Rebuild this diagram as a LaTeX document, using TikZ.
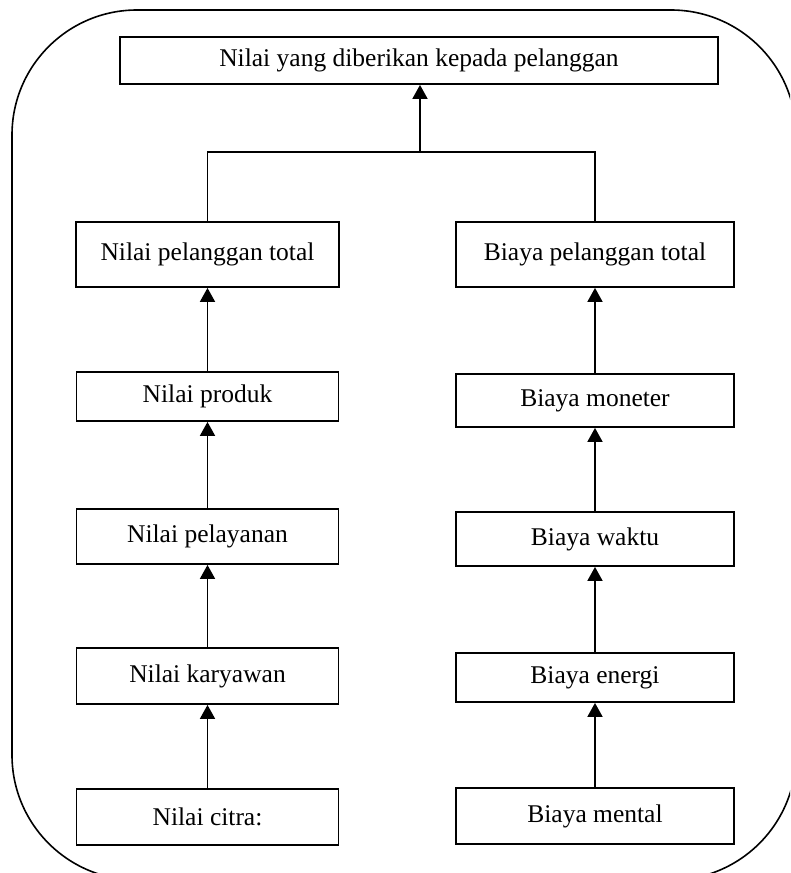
\documentclass[tikz,border=0pt]{standalone}
\usepackage{fontspec}
\setmainfont{Liberation Serif}
\usetikzlibrary{arrows.meta}
\begin{document}
\begin{tikzpicture}[x=1pt,y=-1pt,
  box/.style={draw, line width=1.8pt, inner sep=0pt, font=\fontsize{25.5}{30}\selectfont},
  arr/.style={line width=1.8pt, -{Triangle[length=14pt,width=15pt]}},
  conn/.style={line width=1.8pt}]
\useasboundingbox (0,0) rectangle (790,873);
\begin{scope}
\clip (0,0) rectangle (790,873);
\draw[line width=1.6pt, rounded corners=125pt] (12,10) rectangle (796,880);
\end{scope}
% top
\node[box, minimum width=598pt, minimum height=47pt] (top) at (419,60.5) {Nilai yang diberikan kepada pelanggan};
% left column
\node[box, minimum width=263pt, minimum height=65pt] (npt) at (207.5,254.5) {Nilai pelanggan total};
\node[box, minimum width=262pt, minimum height=49pt] (np) at (207.5,396.5) {Nilai produk};
\node[box, minimum width=262pt, minimum height=55pt] (npl) at (207.5,536.5) {Nilai pelayanan};
\node[box, minimum width=262pt, minimum height=56pt] (nk) at (207.5,676) {Nilai karyawan};
\node[box, minimum width=262pt, minimum height=56pt] (nc) at (207.5,817) {Nilai citra:};
% right column
\node[box, minimum width=278pt, minimum height=65pt] (bpt) at (595,254.5) {Biaya pelanggan total};
\node[box, minimum width=278pt, minimum height=53pt] (bm) at (595,400.5) {Biaya moneter};
\node[box, minimum width=278pt, minimum height=54pt] (bw) at (595,539) {Biaya waktu};
\node[box, minimum width=278pt, minimum height=49pt] (be) at (595,677.5) {Biaya energi};
\node[box, minimum width=278pt, minimum height=56pt] (bme) at (595,816) {Biaya mental};
% connectors
\coordinate (j) at (420,152);
\draw[conn] (npt.north) |- (j) -| (bpt.north);
\draw[arr] (j) -- (top.south -| j);
\draw[arr] (np.north) -- (npt.south);
\draw[arr] (npl.north) -- (np.south);
\draw[arr] (nk.north) -- (npl.south);
\draw[arr] (nc.north) -- (nk.south);
\draw[arr] (bm.north) -- (bpt.south);
\draw[arr] (bw.north) -- (bm.south);
\draw[arr] (be.north) -- (bw.south);
\draw[arr] (bme.north) -- (be.south);
\end{tikzpicture}
\end{document}
